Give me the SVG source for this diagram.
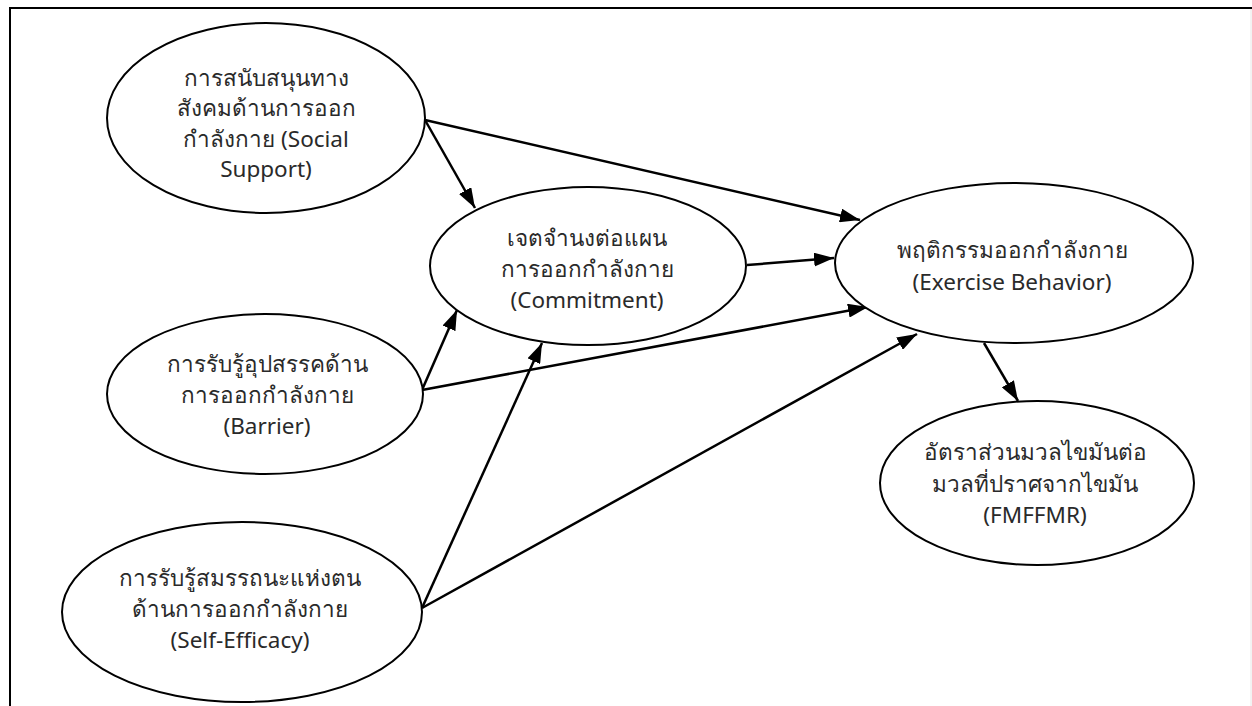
<svg xmlns="http://www.w3.org/2000/svg" width="1252" height="706" viewBox="0 0 1252 706">
<style>
.node ellipse{fill:#fff;stroke:#000;stroke-width:2}
.node text{font-family:"Noto Sans","Open Sans","DejaVu Sans",sans-serif;font-size:22.5px;fill:#2a2a2a;text-anchor:middle}
.edge{stroke:#000;stroke-width:2.5;fill:none;marker-end:url(#ah)}
</style>
<defs>
<marker id="ah" markerUnits="userSpaceOnUse" markerWidth="20" markerHeight="14" refX="20" refY="7" orient="auto">
<path d="M0,0 L20,7 L0,14 z" fill="#000"/>
</marker>
</defs>
<rect width="1252" height="706" fill="#fff"/>
<g id="frame">
<path d="M10,706 L10,8 L1252,8" stroke="#000" stroke-width="2" fill="none"/>
<line x1="1251" y1="9" x2="1251" y2="706" stroke="#e6e6e6" stroke-width="1"/>
</g>
<g id="connectors">
<line class="edge" x1="425" y1="120" x2="475" y2="208"/>
<line class="edge" x1="425" y1="120" x2="860" y2="220"/>
<line class="edge" x1="747" y1="265" x2="834" y2="258"/>
<line class="edge" x1="422" y1="390" x2="457" y2="310"/>
<line class="edge" x1="422" y1="390" x2="868" y2="307"/>
<line class="edge" x1="422" y1="608" x2="542" y2="343"/>
<line class="edge" x1="422" y1="608" x2="917" y2="334"/>
<line class="edge" x1="984" y1="343" x2="1018" y2="401"/>
</g>
<g id="social" class="node">
<ellipse cx="266" cy="118" rx="159" ry="95"/>
<text x="266" y="86">การสนับสนุนทาง</text>
<text x="266" y="116">สังคมด้านการออก</text>
<text x="266" y="147">กำลังกาย (Social</text>
<text x="266" y="177">Support)</text>
</g>
<g id="commitment" class="node">
<ellipse cx="588" cy="266" rx="158" ry="79"/>
<text x="587" y="246">เจตจำนงต่อแผน</text>
<text x="587" y="277">การออกกำลังกาย</text>
<text x="587" y="308">(Commitment)</text>
</g>
<g id="exercise" class="node">
<ellipse cx="1014" cy="263" rx="179" ry="80"/>
<text x="1012" y="258">พฤติกรรมออกกำลังกาย</text>
<text x="1012" y="290">(Exercise Behavior)</text>
</g>
<g id="fmffmr" class="node">
<ellipse cx="1037" cy="483" rx="157" ry="82"/>
<text x="1035" y="460">อัตราส่วนมวลไขมันต่อ</text>
<text x="1035" y="492">มวลที่ปราศจากไขมัน</text>
<text x="1035" y="523">(FMFFMR)</text>
</g>
<g id="barrier" class="node">
<ellipse cx="265" cy="394" rx="158" ry="80"/>
<text x="267" y="372">การรับรู้อุปสรรคด้าน</text>
<text x="267" y="403">การออกกำลังกาย</text>
<text x="267" y="434">(Barrier)</text>
</g>
<g id="selfefficacy" class="node">
<ellipse cx="242" cy="612" rx="180" ry="90"/>
<text x="240" y="586">การรับรู้สมรรถนะแห่งตน</text>
<text x="240" y="617">ด้านการออกกำลังกาย</text>
<text x="240" y="648">(Self-Efficacy)</text>
</g>
</svg>
